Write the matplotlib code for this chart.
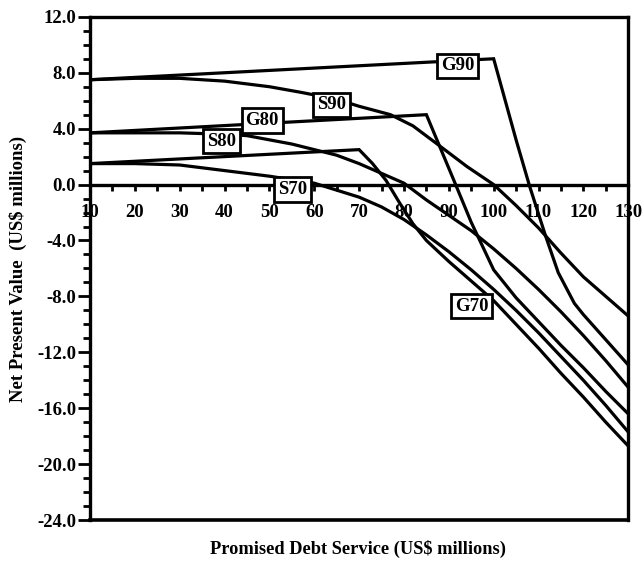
import matplotlib
matplotlib.use("Agg")
import matplotlib.pyplot as plt
from matplotlib.ticker import MultipleLocator, FormatStrFormatter

plt.rcParams['font.family'] = ['Liberation Serif', 'DejaVu Serif']
plt.rcParams['font.weight'] = 'bold'
plt.rcParams['axes.unicode_minus'] = False

# ---- data ----
g90_x = [10, 100, 105, 108, 111.6, 114.4, 118, 120, 125, 130]
g90_y = [7.5, 9.0, 3.2, -0.1, -3.7, -6.3, -8.5, -9.3, -11.1, -12.9]

g80_x = [10, 85, 88, 91, 95, 100, 105, 110, 115, 120, 125, 130]
g80_y = [3.7, 5.0, 2.7, 0.4, -2.7, -6.1, -8.1, -9.8, -11.5, -13.1, -14.8, -16.4]

g70_x = [10, 70, 73, 76, 79, 82, 85, 90, 95, 100, 105, 110, 115, 120, 125, 130]
g70_y = [1.5, 2.5, 1.5, 0.3, -1.3, -2.8, -4.0, -5.5, -6.9, -8.3, -10.0, -11.7, -13.5, -15.2, -17.0, -18.7]

s90_x = [10, 20, 30, 40, 50, 57, 65, 70, 77, 82, 87, 94, 100, 105, 110, 115, 120, 125, 130]
s90_y = [7.5, 7.6, 7.6, 7.4, 7.0, 6.6, 6.1, 5.6, 5.0, 4.2, 3.0, 1.3, 0.0, -1.5, -3.1, -4.9, -6.6, -8.0, -9.4]

s80_x = [10, 20, 30, 40, 45, 50, 55, 60, 65, 70, 75, 80, 85, 90, 95, 100, 105, 110, 115, 120, 125, 130]
s80_y = [3.7, 3.7, 3.7, 3.6, 3.5, 3.2, 2.9, 2.5, 2.1, 1.5, 0.8, 0.1, -1.1, -2.2, -3.3, -4.6, -6.0, -7.5, -9.1, -10.8, -12.6, -14.5]

s70_x = [10, 20, 30, 40, 50, 60, 65, 70, 75, 80, 85, 90, 95, 100, 105, 110, 115, 120, 125, 130]
s70_y = [1.5, 1.5, 1.4, 1.0, 0.6, 0.1, -0.4, -0.9, -1.6, -2.5, -3.6, -4.8, -6.1, -7.5, -9.0, -10.6, -12.3, -14.0, -15.8, -17.7]

label_names = ['G90', 'S90', 'G80', 'S80', 'S70', 'G70']
label_x = [92.0, 63.8, 48.4, 39.3, 55.1, 95.1]
label_y = [8.5, 5.7, 4.6, 3.1, -0.36, -8.7]

x_ticks = list(range(10, 131, 10))
y_ticks = [12, 8, 4, 0, -4, -8, -12, -16, -20, -24]

# ---- figure ----
fig = plt.figure(figsize=(6.43, 5.61), dpi=100)
ax = fig.add_axes([0.140, 0.073, 0.837, 0.897])

series = [(g90_x, g90_y), (g80_x, g80_y), (g70_x, g70_y),
          (s90_x, s90_y), (s80_x, s80_y), (s70_x, s70_y)]
for xs, ys in series:
    ax.plot(xs, ys, color='black', lw=2.3, solid_joinstyle='miter', zorder=3)

for name, lx, ly in zip(label_names, label_x, label_y):
    ax.text(lx, ly, name, ha='center', va='center', fontsize=13.5, fontweight='bold',
            zorder=5,
            bbox=dict(boxstyle='square,pad=0.2', facecolor='white',
                      edgecolor='black', linewidth=2.0))

ax.set_xlim(10, 130)
ax.set_ylim(-24, 12)

# zero line as the x axis, with frame around the plot
ax.spines['bottom'].set_position(('data', 0))
for s in ['bottom', 'left', 'right', 'top']:
    ax.spines[s].set_linewidth(2.4)
ax.axhline(-24, color='black', lw=2.6, clip_on=False, zorder=4)

ax.xaxis.set_major_locator(MultipleLocator(10))
ax.xaxis.set_minor_locator(MultipleLocator(5))
ax.set_xticks(x_ticks)
ax.yaxis.set_major_locator(MultipleLocator(4))
ax.yaxis.set_minor_locator(MultipleLocator(1))
ax.set_yticks(y_ticks)
ax.yaxis.set_major_formatter(FormatStrFormatter('%.1f'))

ax.tick_params(axis='x', which='both', direction='out', length=4, width=2,
               labelsize=13.5, pad=10)
ax.tick_params(axis='y', which='major', direction='out', length=9, width=2,
               labelsize=13.5, pad=1)
ax.tick_params(axis='y', which='minor', direction='out', length=5, width=2)
for lab in ax.get_xticklabels() + ax.get_yticklabels():
    lab.set_fontweight('bold')

fig.text(0.557, 0.022, 'Promised Debt Service (US$ millions)', ha='center', va='center',
         fontsize=13.2, fontweight='bold')
fig.text(0.028, 0.52, 'Net Present Value  (US$ millions)', ha='center', va='center',
         rotation=90, fontsize=13.5, fontweight='bold')

fig.savefig('out.png', dpi=100, facecolor='white')
